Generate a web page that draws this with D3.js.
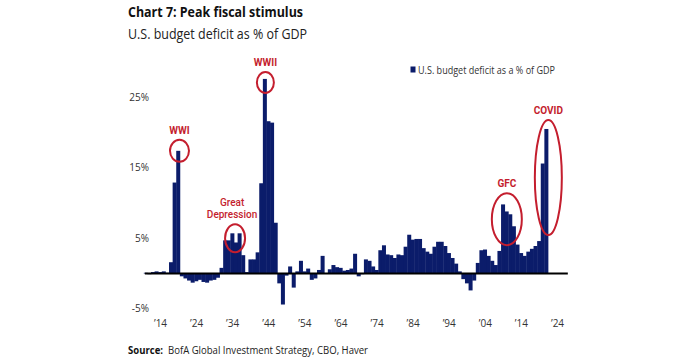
<!DOCTYPE html>
<html>
<head>
<meta charset="utf-8">
<script src="https://cdn.jsdelivr.net/npm/d3@7"></script>
<style>
  body { margin: 0; background: #fff; }
  svg text { font-family: "Open Sans", "Liberation Sans", sans-serif; }
</style>
</head>
<body>
<div class="holder"></div>
<script>
// data: deficit as % of GDP, one value per year from 1910
const firstYear = 1910;
const deficit = [
  0.1, -0.1, 0.2, 0.3, 0.2, 0.3, 0.1, 1.6, 12.9, 17.4,          // 1910-1919
  -0.4, -0.7, -1.0, -1.3, -1.1, -0.9, -1.2, -1.3, -1.0, -0.9,    // 1920s
  -0.6, 0.8, 4.7, 4.7, 5.7, 4.4, 5.7, 2.6, 0.2, 2.0,             // 1930s
  2.0, 3.0, 12.8, 27.6, 21.6, 21.4, 7.2, -1.4, -4.4, -0.3,       // 1940s
  1.0, -2.0, 0.3, 1.8, 0.3, 0.7, -0.9, -0.7, 0.5, 2.5,           // 1950s
  0.0, 0.6, 1.2, 0.9, 0.8, 0.4, 0.5, 0.7, 2.8, -0.4,             // 1960s
  -0.1, 2.0, 1.8, 1.0, 0.5, 3.3, 4.0, 2.7, 2.6, 2.2,             // 1970s
  2.7, 2.6, 3.8, 5.5, 4.8, 4.9, 4.9, 3.6, 3.1, 2.8,              // 1980s
  3.8, 4.5, 4.5, 3.9, 2.9, 2.2, 1.4, 0.3, -0.8, -1.4,            // 1990s
  -2.4, -1.0, 1.5, 3.3, 3.4, 2.5, 1.8, 1.2, 3.2, 9.8,            // 2000s
  8.8, 8.4, 6.7, 4.1, 2.9, 2.5, 3.1, 3.5, 3.9, 4.6,              // 2010s
  15.6, 20.5                                                     // 2020-2021
];
const years = deficit.map((d, i) => firstYear + i);

const xTickYears = [1914, 1924, 1934, 1944, 1954, 1964, 1974, 1984, 1994, 2004, 2014, 2024];
const xTickLabels = ["\u201914", "\u201924", "\u201934", "\u201944", "\u201954", "\u201964",
                     "\u201974", "\u201984", "\u201994", "\u201904", "\u201914", "\u201924"];
const yTickValues = [-5, 5, 15, 25];

// highlighted episodes: label lines, centre (year, value)
const eventLabels = [["WWI"], ["Great", "Depression"], ["WWII"], ["GFC"], ["COVID"]];
const eventYears = [1919.4, 1934.8, 1943.2, 2010.1, 2021.6];
const eventValues = [17.4, 5.0, 27.1, 7.7, 13.6];

const seriesName = "U.S. budget deficit as a % of GDP";

// layout
const width = 700, height = 360;
const navy = "#0b1c6a", red = "#c41e2e";
const ellipseSize = [[9.5, 11], [10, 14], [8.5, 10.5], [15, 26], [13.5, 57.5]];

let svg = d3.select(".holder").append("svg")
  .attr("width", width).attr("height", height);

// scales
const x = d3.scaleLinear().domain([1914, 2024]).range([160, 557]);
const y = d3.scaleLinear().domain([-5, 25]).range([308.75, 97.25]);

// titles
svg.append("text").text("Chart 7: Peak fiscal stimulus")
  .attr("x", 128).attr("y", 17)
  .attr("textLength", 175).attr("lengthAdjust", "spacingAndGlyphs")
  .style("font-size", "15px").style("font-weight", "bold").style("fill", "#111");
svg.append("text").text("U.S. budget deficit as % of GDP")
  .attr("x", 128).attr("y", 39)
  .attr("textLength", 179).attr("lengthAdjust", "spacingAndGlyphs")
  .style("font-size", "14px").style("fill", "#222");

// legend
svg.append("rect").attr("x", 410.5).attr("y", 66.5).attr("width", 5).attr("height", 6)
  .style("fill", navy);
svg.append("text").text(seriesName)
  .attr("x", 418).attr("y", 73.5)
  .attr("textLength", 137).attr("lengthAdjust", "spacingAndGlyphs")
  .style("font-size", "10px").style("fill", "#333");

// bars
svg.append("g").selectAll("rect").data(deficit).enter().append("rect")
  .attr("x", (d, i) => x(years[i] - 0.5))
  .attr("width", (d, i) => x(years[i] + 0.5) - x(years[i] - 0.5) + 0.4)
  .attr("y", d => y(Math.max(0, d)))
  .attr("height", d => Math.abs(y(d) - y(0)))
  .style("fill", navy);

// zero line
svg.append("line")
  .attr("x1", x(1909.8)).attr("x2", x(2027))
  .attr("y1", y(0)).attr("y2", y(0))
  .style("stroke", "#000").style("stroke-width", 1.8);

// y axis
let yAxis = d3.axisLeft(y).tickValues(yTickValues).tickFormat(d => d + "%")
  .tickSize(0).tickPadding(3);
let gy = svg.append("g").attr("transform", "translate(152,0)").call(yAxis);
gy.select(".domain").remove();
gy.selectAll("text").style("font-size", "10px").style("fill", "#333")
  .style("font-family", "'Open Sans', sans-serif");

// x axis
let xAxis = d3.axisBottom(x).tickValues(xTickYears).tickFormat((d, i) => xTickLabels[i])
  .tickSize(0).tickPadding(3);
let gx = svg.append("g").attr("transform", "translate(0,317)").call(xAxis);
gx.select(".domain").remove();
gx.selectAll("text").style("font-size", "10px").style("fill", "#333")
  .style("font-family", "'Open Sans', sans-serif");

// annotations
eventLabels.forEach((lines, k) => {
  const cx = x(eventYears[k]), cy = y(eventValues[k]);
  const [rx, ry] = ellipseSize[k];
  svg.append("ellipse").attr("cx", cx).attr("cy", cy).attr("rx", rx).attr("ry", ry)
    .style("fill", "none").style("stroke", red).style("stroke-width", 2);
  const top = cy - ry - 6;
  lines.slice().reverse().forEach((line, j) => {
    svg.append("text").text(line)
      .attr("x", k === 1 ? cx - 3 : cx).attr("y", top - j * 12)
      .attr("text-anchor", "middle")
      .style("font-family", "'Roboto', 'Liberation Sans', sans-serif")
      .style("font-size", "10px").style("font-weight", k === 1 ? "500" : "bold")
      .style("fill", red);
  });
});

// source
svg.append("text").text("Source:")
  .attr("x", 128).attr("y", 354)
  .attr("textLength", 35).attr("lengthAdjust", "spacingAndGlyphs")
  .style("font-size", "11px").style("font-weight", "bold").style("fill", "#111");
svg.append("text").text("BofA Global Investment Strategy, CBO, Haver")
  .attr("x", 168).attr("y", 354)
  .attr("textLength", 200).attr("lengthAdjust", "spacingAndGlyphs")
  .style("font-size", "11px").style("fill", "#222");
</script>
</body>
</html>
